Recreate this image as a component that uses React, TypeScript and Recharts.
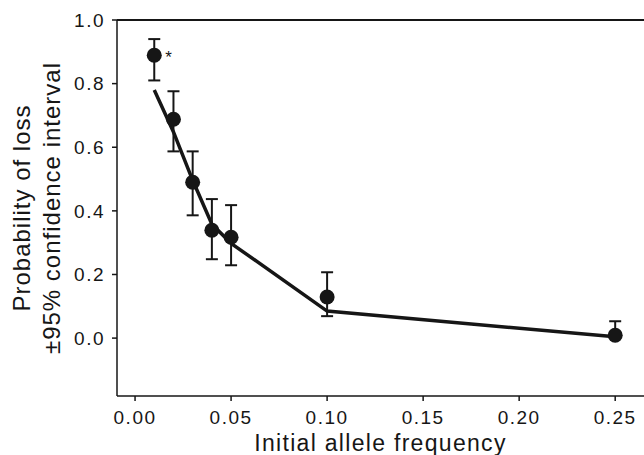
import { ComposedChart, Scatter, XAxis, YAxis, ErrorBar, ReferenceLine } from "recharts"

// observed probability of loss with 95% CI
const freqs = [0.01, 0.02, 0.03, 0.04, 0.05, 0.1, 0.25]
const probLoss = [0.889, 0.688, 0.49, 0.339, 0.317, 0.129, 0.009]
const ciLower = [0.81, 0.587, 0.386, 0.248, 0.229, 0.069, 0.0]
const ciUpper = [0.94, 0.776, 0.587, 0.437, 0.418, 0.207, 0.053]
const marks = ["*", "", "", "", "", "", ""]

// fitted curve
const fitFreqs = [0.01, 0.02, 0.03, 0.04, 0.05, 0.1, 0.25]
const fitValues = [0.78, 0.648, 0.496, 0.358, 0.298, 0.085, 0.004]

const xTicks = [0, 0.05, 0.1, 0.15, 0.2, 0.25]
const yTicks = [0, 0.2, 0.4, 0.6, 0.8, 1.0]

const ink = "#161616"
const font = "'Liberation Sans', Arial, sans-serif"

const points = freqs.map((x, i) => ({
  x,
  y: probLoss[i],
  err: [probLoss[i] - ciLower[i], ciUpper[i] - probLoss[i]],
  mark: marks[i],
}))
const fit = fitFreqs.map((x, i) => ({ x, y: fitValues[i] }))

function Dot(props: any) {
  const { cx, cy, payload } = props
  if (cx == null || cy == null) return <g />
  return (
    <g>
      <circle cx={cx} cy={cy} r={7.5} fill={ink} />
      {payload?.mark ? (
        <text x={cx + 11} y={cy + 8} fontSize={17} fontFamily={font} fill={ink}>
          {payload.mark}
        </text>
      ) : null}
    </g>
  )
}

function YLabel(props: any) {
  const vb = props.viewBox || {}
  const cy = (vb.y ?? 20) + (vb.height ?? 376) / 2
  return (
    <g fontFamily={font} fontSize={24} fill={ink} letterSpacing={1}>
      <text x={30} y={cy} textAnchor="middle" transform={`rotate(-90, 30, ${cy})`}>
        Probability of loss
      </text>
      <text x={60} y={cy} textAnchor="middle" transform={`rotate(-90, 60, ${cy})`}>
        ±95% confidence interval
      </text>
    </g>
  )
}

function XLabel(props: any) {
  const vb = props.viewBox || {}
  const cx = (vb.x ?? 117) + (vb.width ?? 527) / 2
  return (
    <text x={cx} y={451} textAnchor="middle" fontFamily={font} fontSize={23} fill={ink} letterSpacing={1.3}>
      Initial allele frequency
    </text>
  )
}

export default function App() {
  return (
    <div style={{ position: "absolute", left: 0, top: 0, background: "#fff" }}>
      <ComposedChart
        width={644}
        height={455}
        margin={{ top: 20, right: 0, left: 0, bottom: 0 }}
      >
        <XAxis
          type="number"
          dataKey="x"
          domain={[-0.0094, 0.265]}
          ticks={xTicks}
          allowDataOverflow
          height={59}
          stroke={ink}
          strokeWidth={1.5}
          tickSize={5}
          tickMargin={10}
          tick={{ fontSize: 19, fill: ink, fontFamily: font, letterSpacing: 1.5 }}
          tickFormatter={(v: number) => v.toFixed(2)}
          label={{ content: XLabel }}
        />
        <YAxis
          type="number"
          dataKey="y"
          domain={[-0.182, 1.0]}
          ticks={yTicks}
          allowDataOverflow
          width={117}
          stroke={ink}
          strokeWidth={1.5}
          tickSize={5}
          tickMargin={7}
          tick={{ fontSize: 19, fill: ink, fontFamily: font, letterSpacing: 1.5 }}
          tickFormatter={(v: number) => v.toFixed(1)}
          label={{ content: YLabel }}
        />
        <ReferenceLine y={1.0} stroke={ink} strokeWidth={2} />
        <Scatter
          data={fit}
          line={{ stroke: ink, strokeWidth: 3.5 }}
          shape={() => <g />}
          isAnimationActive={false}
        />
        <Scatter data={points} shape={Dot} isAnimationActive={false}>
          <ErrorBar dataKey="err" direction="y" width={6} stroke={ink} strokeWidth={2} />
        </Scatter>
      </ComposedChart>
    </div>
  )
}
